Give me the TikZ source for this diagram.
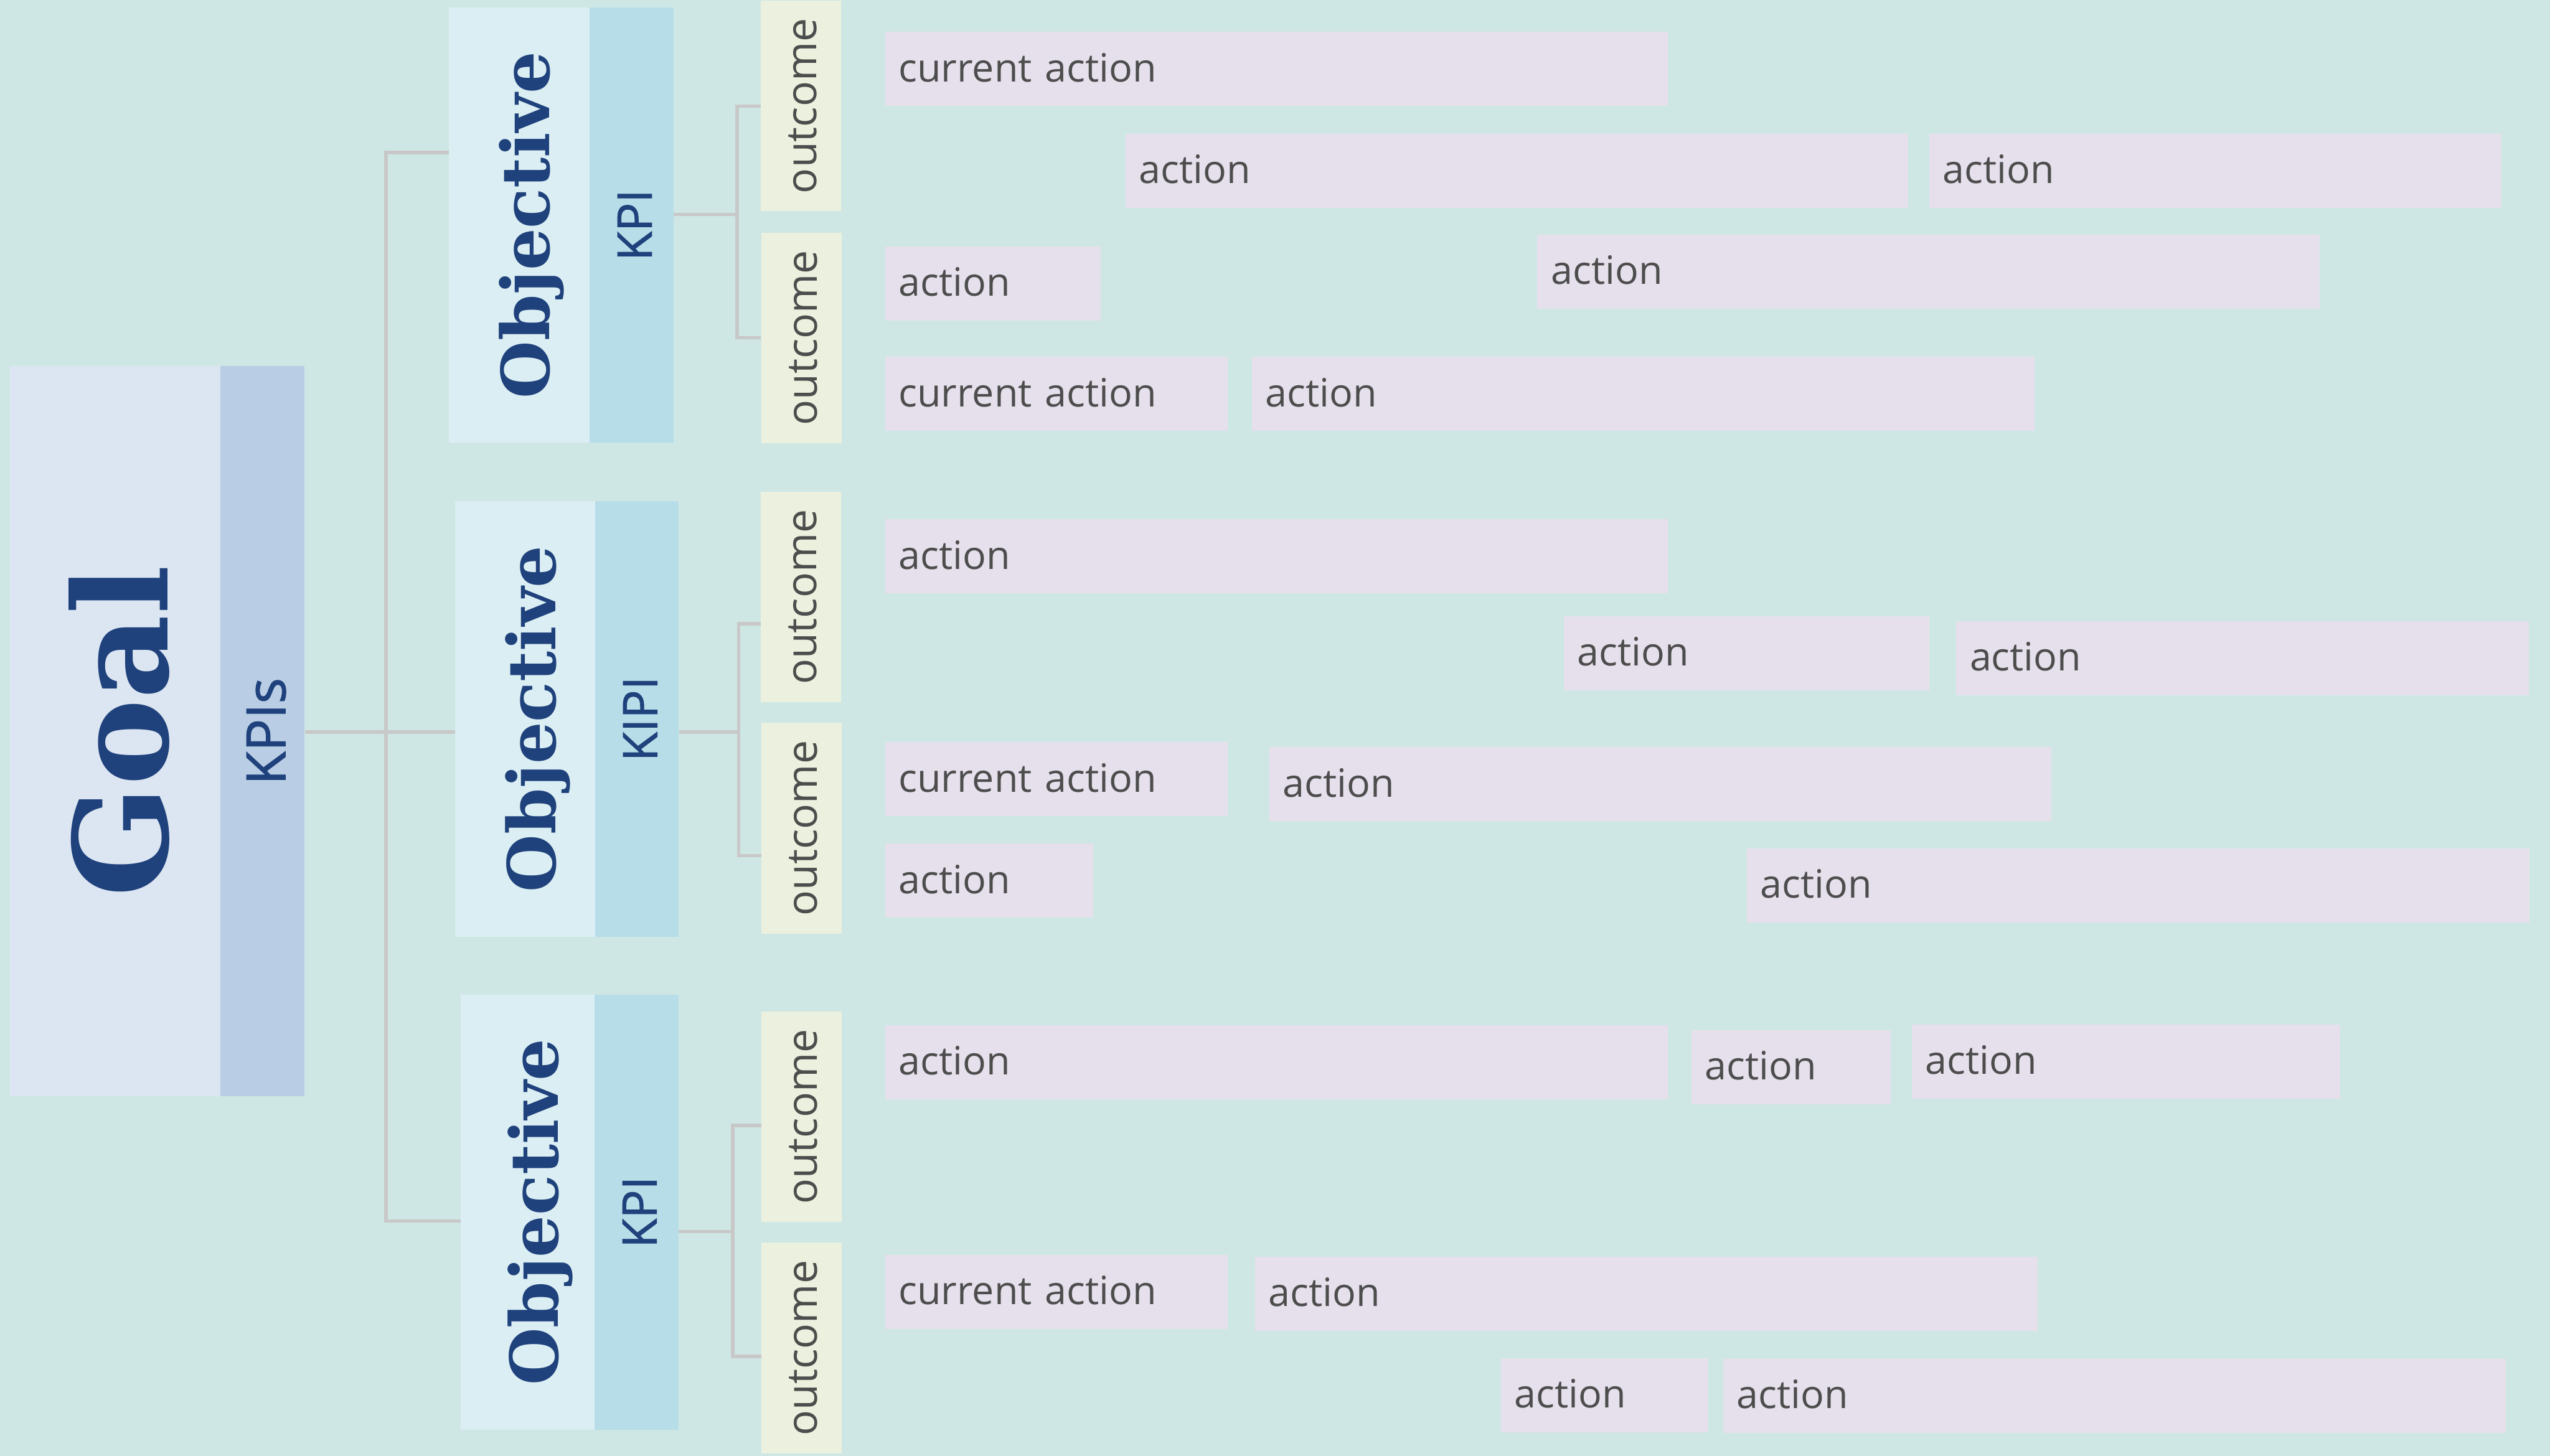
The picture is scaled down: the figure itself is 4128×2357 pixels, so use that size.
\documentclass[tikz,border=0pt]{standalone}
\usepackage{fontspec}
\setmainfont{Open Sans}
\newfontfamily\slabfont{DejaVu Serif}
\newfontfamily\kpifont{Open Sans}[FakeBold=1.2]

\definecolor{bg}{HTML}{CFE7E4}
\definecolor{goalfill}{HTML}{DCE6F2}
\definecolor{kpisfill}{HTML}{B9CDE5}
\definecolor{objfill}{HTML}{DAEEF3}
\definecolor{kpifill}{HTML}{B7DDE8}
\definecolor{outfill}{HTML}{EBF1DE}
\definecolor{actfill}{HTML}{E6E0EC}
\definecolor{navy}{HTML}{1F417C}
\definecolor{txtgray}{HTML}{4D4D4D}
\definecolor{linegray}{HTML}{C8C8C8}

\tikzset{
  upright/.style={rotate=90, inner sep=0pt, text depth=0pt},
  goalbox/.style={upright, fill=goalfill, text=navy, minimum width=118.2mm, minimum height=34.1mm,
    text height=17.1mm, font=\slabfont\bfseries\fontsize{60}{60}\selectfont},
  kpisbox/.style={upright, fill=kpisfill, text=navy, minimum width=118.2mm, minimum height=13.6mm,
    text height=7.4mm, font=\kpifont\fontsize{25}{26}\selectfont},
  objbox/.style={upright, fill=objfill, text=navy, minimum width=70.5mm, minimum height=#1,
    text height=9.8mm, font=\slabfont\bfseries\fontsize{30.5}{31}\selectfont},
  kpibox/.style={upright, fill=kpifill, text=navy, minimum width=70.5mm, minimum height=13.6mm,
    text height=6.6mm, font=\kpifont\fontsize{22}{24}\selectfont},
  outbox/.style={upright, fill=outfill, text=txtgray, minimum width=34.1mm, minimum height=13mm,
    text height=5mm, font=\fontsize{19.5}{22}\selectfont},
  act/.style={fill=actfill, text=txtgray, anchor=north west, inner xsep=2.2mm, inner ysep=0pt,
    minimum height=12mm, text width={#1*0.1mm-4.4mm}, align=left, text height=4.1mm, text depth=0pt,
    font=\fontsize{18}{20}\selectfont},
  link/.style={draw=linegray, line width=0.55mm}
}

\begin{document}
\begin{tikzpicture}[x=0.1mm,y=-0.1mm]
\fill[bg] (0,0) rectangle (4128,2357);

\path (186.5,1184) node[goalbox] (goal) {Goal}
      (425,1184) node[kpisbox] (kpis) {KPIs}
      (840.5,364.5) node[objbox=22.7mm] (obj1) {Objective}
      (1022,364.5) node[kpibox] (kpi1) {KPI}
      (850,1164) node[objbox=22.6mm] (obj2) {Objective}
      (1031,1164) node[kpibox] (kpi2) {KIPI}
      (854,1962.5) node[objbox=21.6mm] (obj3) {Objective}
      (1030,1962.5) node[kpibox] (kpi3) {KPI}
      (1297,171.5) node[outbox] (out1a) {outcome}
      (1297.5,547) node[outbox] (out1b) {outcome}
      (1297,966.5) node[outbox] (out2a) {outcome}
      (1298,1341) node[outbox] (out2b) {outcome}
      (1298,1808) node[outbox] (out3a) {outcome}
      (1298,2182.5) node[outbox] (out3b) {outcome}
      ;

\path (1432,51) node[act=1267] (cur1) {current action}
      (1821,216) node[act=1267] (act2a) {action}
      (3122,216) node[act=927] (act2b) {action}
      (1432,398) node[act=349] (act3a) {action}
      (2488,379) node[act=1266] (act3b) {action}
      (1432,577) node[act=555] (cur4) {current action}
      (2026,577) node[act=1267] (act4) {action}
      (1432,840) node[act=1267] (act5) {action}
      (2531,997) node[act=591] (act6a) {action}
      (3166,1005) node[act=927] (act6b) {action}
      (1432,1201) node[act=555] (cur7) {current action}
      (2054,1209) node[act=1266] (act7) {action}
      (1432,1365) node[act=337] (act8a) {action}
      (2827,1373) node[act=1267] (act8b) {action}
      (1432,1659) node[act=1267] (act9a) {action}
      (2737,1667) node[act=323] (act9b) {action}
      (3094,1658) node[act=694] (act9c) {action}
      (1432,2031) node[act=555] (cur10) {current action}
      (2031,2034) node[act=1267] (act10) {action}
      (2429,2198) node[act=336] (act11a) {action}
      (2789,2199) node[act=1267] (act11b) {action}
      ;

% upright boxes: north is the left side, south the right side
\coordinate (fork) at (625,1185);
\coordinate (t1) at (625,247);
\coordinate (t3) at (625,1977);
\draw[link] (fork -| kpis.south) -- (fork -| obj2.north);
\draw[link] (t1 -| obj1.north) -- (t1) -- (t3) -- (t3 -| obj3.north);

\coordinate (k1) at (1193,347);
\coordinate (k1a) at (1193,172);
\coordinate (k1b) at (1193,547);
\draw[link] (k1 -| kpi1.south) -- (k1);
\draw[link] (k1a -| out1a.north) -- (k1a) -- (k1b) -- (k1b -| out1b.north);

\coordinate (k2) at (1196,1185);
\coordinate (k2a) at (1196,1010);
\coordinate (k2b) at (1196,1385);
\draw[link] (k2 -| kpi2.south) -- (k2);
\draw[link] (k2a -| out2a.north) -- (k2a) -- (k2b) -- (k2b -| out2b.north);

\coordinate (k3) at (1186,1994);
\coordinate (k3a) at (1186,1822);
\coordinate (k3b) at (1186,2196);
\draw[link] (k3 -| kpi3.south) -- (k3);
\draw[link] (k3a -| out3a.north) -- (k3a) -- (k3b) -- (k3b -| out3b.north);
\end{tikzpicture}
\end{document}
